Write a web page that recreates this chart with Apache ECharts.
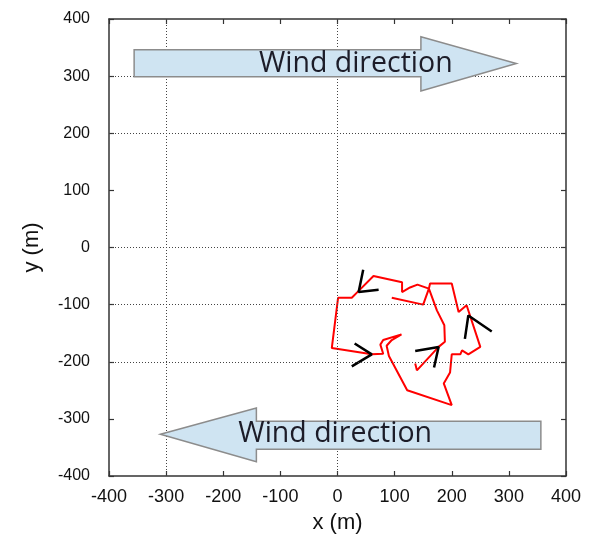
<!DOCTYPE html>
<html><head><meta charset="utf-8">
<script src="https://cdn.jsdelivr.net/npm/echarts@6/dist/echarts.min.js"></script>
<style>html,body{margin:0;padding:0;background:#fff}#c{width:598px;height:540px}</style>
</head><body><div id="c"></div>
<script>
// Trajectory (x, y in metres)
const trajectory = [
  [136,-203],[139,-215],[177,-174],[188,-165],[187,-136],[174,-110],[160,-72],
  [140,-65],[127,-70],[113,-78],[113,-61],[63,-50],
  [34,-79],[25,-88],[1,-88],[-10,-176],
  [60,-187],[80,-186],[75,-170],[80,-162],[112,-152],[95,-162],[86,-172],[90,-190],
  [122,-250],[200,-276],[186,-238],[197,-219],[200,-187],[215,-187],[218,-180],[229,-187],[250,-174],
  [226,-101],[212,-113],[200,-63],[162,-63],[160,-72],[150,-100],[95,-88]
];
// Direction chevrons: [armA, tip, armB]
const chevrons = [
  [[45,-39],[37,-78],[72,-74]],
  [[30,-168],[60,-187],[25,-208]],
  [[136,-181],[177,-174],[169,-210]],
  [[223,-160],[229,-119],[270,-147]]
];
// Wind-direction arrows (polygons in data coords) and their label anchors
const windArrows = [
  [[-356,346],[146,346],[146,369],[313,322],[146,274],[146,299],[-356,299]],
  [[-310,-327],[-142,-281],[-142,-304],[356,-304],[356,-353],[-142,-353],[-142,-375]]
];
const windLabelPos = [[32,322],[-4,-326]];
const windLabel = 'Wind direction';
const gridX = [-300, 0];
const gridY = [300, 200, 0, -100, -200];

const chart = echarts.init(document.getElementById('c'), null, {renderer:'canvas'});
const axisCommon = {
  type:'value', min:-400, max:400, interval:100,
  axisLine:{show:true, onZero:false, lineStyle:{color:'#333', width:1.5}},
  axisTick:{show:true, inside:true, length:5, lineStyle:{color:'#333', width:1.2}},
  splitLine:{show:false}
};
const series = [
  {
    type:'line', data:trajectory, showSymbol:false, animation:false, z:3,
    lineStyle:{color:'#ff0000', width:2}, itemStyle:{color:'#ff0000'},
    markLine:{
      silent:true, symbol:'none', animation:false,
      label:{show:false},
      lineStyle:{type:[1,2], color:'#444', width:1},
      data: gridX.map(v=>({xAxis:v})).concat(gridY.map(v=>({yAxis:v})))
    }
  }
];
chevrons.forEach(c => series.push({
  type:'line', data:c, showSymbol:false, animation:false, z:4,
  lineStyle:{color:'#000', width:2.5}
}));
series.push({
  type:'custom', coordinateSystem:'cartesian2d', animation:false, z:5, clip:false,
  data: windLabelPos.map((p,i)=>[p[0],p[1],i]),
  renderItem: function(params, api){
    const i = params.dataIndex;
    const pts = windArrows[i].map(p=>api.coord(p));
    const lp = api.coord(windLabelPos[i]);
    return {type:'group', children:[
      {type:'polygon', shape:{points:pts}, style:{fill:'#cfe4f2', stroke:'#8c8c8c', lineWidth:1.5}},
      {type:'text', x:lp[0], y:lp[1], style:{text:windLabel, font:'28.5px "Open Sans"', fill:'#1c1c28', align:'center', verticalAlign:'middle'}}
    ]};
  }
});
chart.setOption({
  backgroundColor:'#fff',
  animation:false,
  grid:{left:109, right:32, top:19, bottom:64, containLabel:false},
  xAxis:[
    Object.assign({}, axisCommon, {position:'bottom', name:'x (m)', nameLocation:'middle', nameGap:36,
      nameTextStyle:{fontSize:22, color:'#111', fontFamily:'Liberation Sans'},
      axisLabel:{fontSize:18, color:'#111', margin:12, fontFamily:'Liberation Sans'}}),
    Object.assign({}, axisCommon, {position:'top', axisLabel:{show:false}})
  ],
  yAxis:[
    Object.assign({}, axisCommon, {position:'left', name:'y (m)', nameLocation:'middle', nameGap:66,
      nameTextStyle:{fontSize:22, color:'#111', fontFamily:'Liberation Sans'},
      axisLabel:{fontSize:16, color:'#111', margin:19, fontFamily:'Liberation Sans'}}),
    Object.assign({}, axisCommon, {position:'right', axisLabel:{show:false}})
  ],
  series: series
});
</script></body></html>
